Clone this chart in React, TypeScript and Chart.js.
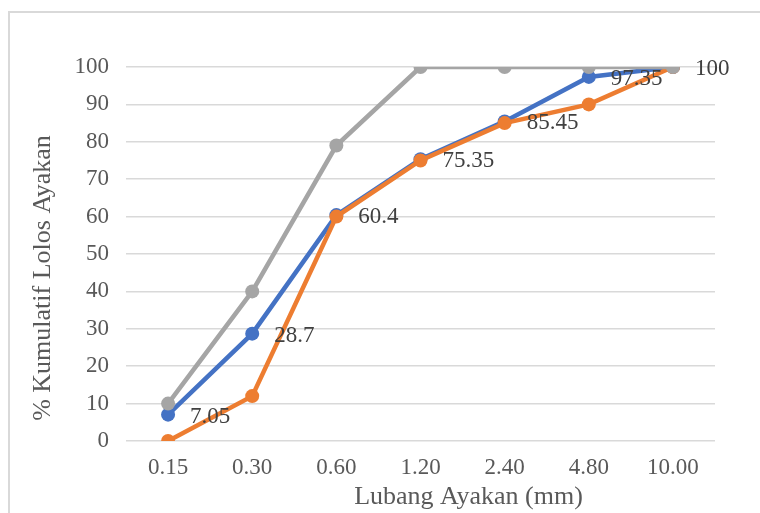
import React, { useEffect, useRef } from "react";
import { Chart, registerables } from "chart.js";

Chart.register(...registerables);

const categories = ["0.15", "0.30", "0.60", "1.20", "2.40", "4.80", "10.00"];
const hasilValues = [7.05, 28.7, 60.4, 75.35, 85.45, 97.35, 100];
const batasBawah = [0, 12, 60, 75, 85, 90, 100];
const batasAtas = [10, 40, 79, 100, 100, 100, 100];
const hasilLabels = ["7.05", "28.7", "60.4", "75.35", "85.45", "97.35", "100"];
const yTicks = [0, 10, 20, 30, 40, 50, 60, 70, 80, 90, 100];

const xTitle = "Lubang Ayakan (mm)";
const yTitle = "% Kumulatif Lolos Ayakan";

const FONT = '"Liberation Serif", "Times New Roman", serif';

const labelPlugin = {
  id: "customLabels",
  afterDatasetsDraw(chart: any) {
    const ctx = chart.ctx;
    const meta = chart.getDatasetMeta(0);
    ctx.save();
    ctx.font = `23px ${FONT}`;
    ctx.fillStyle = "#404040";
    ctx.textAlign = "left";
    ctx.textBaseline = "middle";
    meta.data.forEach((pt: any, i: number) => {
      ctx.fillText(hasilLabels[i], pt.x + 22, pt.y + 2);
    });
    ctx.restore();
  },
  afterDraw(chart: any) {
    const ctx = chart.ctx;
    const a = chart.chartArea;
    ctx.save();
    ctx.font = `26px ${FONT}`;
    ctx.fillStyle = "#595959";
    ctx.textAlign = "center";
    ctx.textBaseline = "middle";
    ctx.fillText(xTitle, (a.left + a.right) / 2 + 48, a.bottom + 56);
    ctx.translate(a.left - 83, (a.top + a.bottom) / 2 + 24);
    ctx.rotate(-Math.PI / 2);
    ctx.fillText(yTitle, 0, 0);
    ctx.restore();
  },
};

export default function App() {
  const ref = useRef<HTMLCanvasElement>(null);
  useEffect(() => {
    if (!ref.current) return;
    const chart = new Chart(ref.current, {
      type: "line",
      data: {
        labels: categories,
        datasets: [
          {
            label: "Hasil",
            data: hasilValues,
            borderColor: "#4472C4",
            backgroundColor: "#4472C4",
            borderWidth: 4.5,
            pointRadius: 7,
            pointBorderWidth: 0,
            tension: 0,
            order: 2,
          },
          {
            label: "Batas Bawah",
            data: batasBawah,
            borderColor: "#ED7D31",
            backgroundColor: "#ED7D31",
            borderWidth: 4.5,
            pointRadius: 7,
            pointBorderWidth: 0,
            tension: 0,
            order: 1,
          },
          {
            label: "Batas Atas",
            data: batasAtas,
            borderColor: "#A5A5A5",
            backgroundColor: "#A5A5A5",
            borderWidth: 4.5,
            pointRadius: 7,
            pointBorderWidth: 0,
            tension: 0,
            order: 0,
          },
        ],
      },
      options: {
        animation: false,
        responsive: false,
        devicePixelRatio: 1,
        layout: {
          autoPadding: false,
          padding: { top: 54, right: 45, left: 0, bottom: 0 },
        },
        plugins: {
          legend: { display: false },
          tooltip: { enabled: false },
        },
        scales: {
          x: {
            offset: true,
            grid: { display: false, drawTicks: false },
            border: { display: false },
            ticks: {
              padding: 13,
              color: "#595959",
              font: { family: FONT, size: 23 },
              maxRotation: 0,
            },
            afterFit(scale: any) {
              scale.height = 72;
            },
          },
          y: {
            min: 0,
            max: 100,
            afterBuildTicks(scale: any) {
              scale.ticks = yTicks.map((v) => ({ value: v }));
            },
            grid: { color: "#d9d9d9", lineWidth: 1.5, drawTicks: false },
            border: { display: false },
            ticks: {
              padding: 17,
              color: "#595959",
              font: { family: FONT, size: 23 },
            },
            afterFit(scale: any) {
              scale.width = 116;
            },
          },
        },
      },
      plugins: [labelPlugin],
    });
    return () => chart.destroy();
  }, []);

  return (
    <div
      style={{
        position: "fixed",
        left: 8,
        top: 11,
        width: 750,
        height: 500,
        borderTop: "2px solid #d9d9d9",
        borderLeft: "2px solid #d9d9d9",
      }}
    >
      <canvas ref={ref} width={750} height={500} style={{ display: "block" }} />
    </div>
  );
}
